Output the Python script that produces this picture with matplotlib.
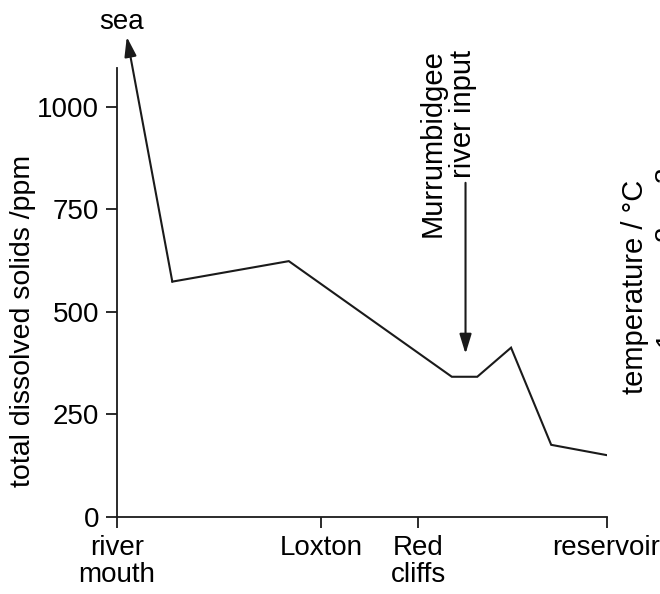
import matplotlib
matplotlib.use("Agg")
import matplotlib.pyplot as plt

plt.rcParams["font.family"] = ["Liberation Sans", "DejaVu Sans"]

# distance along the river (0 = river mouth, 1 = reservoir) and TDS in ppm
dist = [0.113, 0.351, 0.684, 0.736, 0.805, 0.887, 1.0]
tds = [574, 624, 342, 342, 413, 176, 151]

sea_tip = (0.020, 1171)           # where the "sea" arrow points
inflow_x = 0.712                  # Murrumbidgee inflow
inflow_from, inflow_to = 815, 398

site_pos = [0.0, 0.417, 0.615, 1.0]
site_labels = ["river\nmouth", "Loxton", "Red\ncliffs", "reservoir"]
yticks = [0, 250, 500, 750, 1000]

FS = 20
INK = "#1a1a1a"

fig = plt.figure(figsize=(6.6, 5.94), dpi=100)
ax = fig.add_axes([117 / 660, 77 / 594, 489.5 / 660, 449 / 594])

ax.plot(dist, tds, color=INK, lw=1.5, solid_joinstyle="miter")

arrow = dict(arrowstyle="-|>,head_length=0.85,head_width=0.26",
             mutation_scale=14, lw=1.5, color=INK, shrinkA=0, shrinkB=0)
ax.annotate("", xy=sea_tip, xytext=(dist[0], tds[0]),
            arrowprops=arrow, annotation_clip=False)
ax.text(0.01, 1207, "sea", ha="center", va="center", fontsize=FS,
        clip_on=False)

ax.annotate("", xy=(inflow_x, inflow_to), xytext=(inflow_x, inflow_from),
            arrowprops=arrow, annotation_clip=False)
ax.text(0.676, 1140, "Murrumbidgee\nriver input", rotation=90,
        ha="center", va="top", multialignment="right", fontsize=21,
        linespacing=1.1, clip_on=False)

ax.set_xlim(0, 1)
ax.set_ylim(0, 1095)
for s in ("top", "right"):
    ax.spines[s].set_visible(False)
for s in ("left", "bottom"):
    ax.spines[s].set_linewidth(1.3)
    ax.spines[s].set_color(INK)

ax.set_yticks(yticks)
ax.set_yticklabels([str(v) for v in yticks], fontsize=FS)
ax.set_xticks(site_pos)
ax.set_xticklabels(site_labels, fontsize=FS, linespacing=1.05)
ax.tick_params(direction="out", length=8, width=1.3, color=INK, pad=5)

ax.text(-0.192, 0.4365, "total dissolved solids /ppm", rotation=90,
        ha="center", va="center", fontsize=20.5, transform=ax.transAxes)

# cropped neighbouring panel at the right edge
fig.text(635 / 660, 1 - 287 / 594, "temperature / °C", rotation=90,
         ha="center", va="center", fontsize=21)
for ch, ypx in (("3", 174), ("2", 233), ("1", 338)):
    fig.text(667 / 660, 1 - ypx / 594, ch, rotation=90,
             ha="center", va="center", fontsize=FS)

fig.savefig("out.png", dpi=100)
